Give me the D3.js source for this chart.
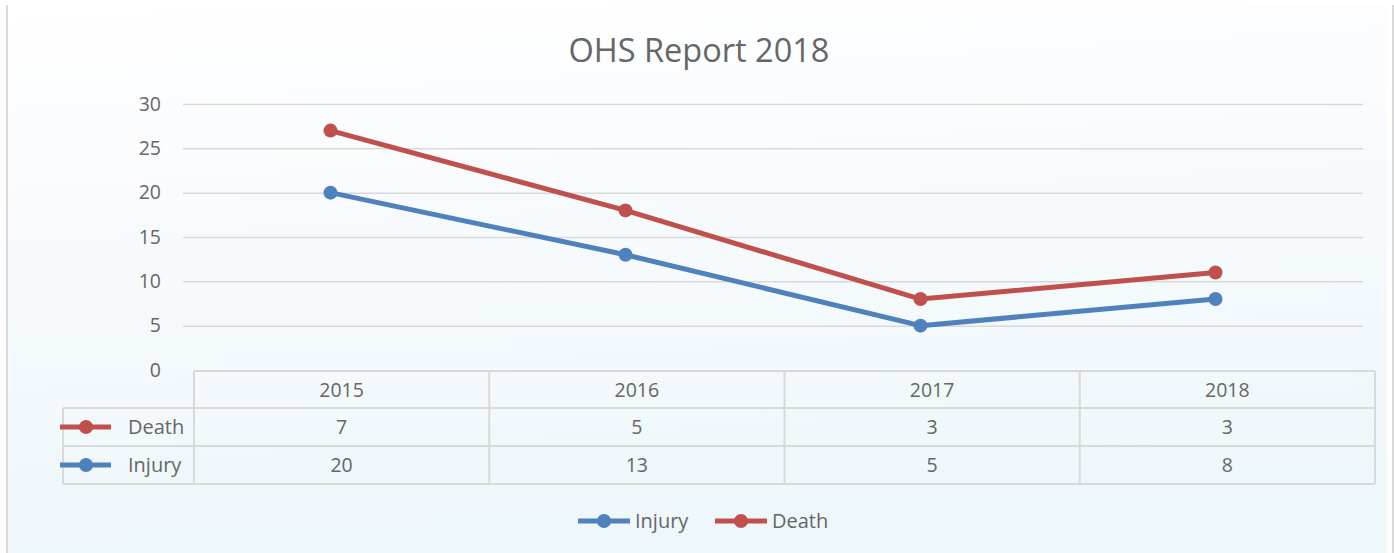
<!DOCTYPE html>
<html>
<head>
<meta charset="utf-8">
<script src="https://cdn.jsdelivr.net/npm/d3@7"></script>
<style>
  body { margin: 0; background: #fff; }
  svg { display: block; }
  text { font-family: "Open Sans", "Noto Sans", sans-serif; fill: #666666; }
</style>
</head>
<body>
<script>
// chart data (stacked line: Death is drawn on top of Injury)
const years = ['2015', '2016', '2017', '2018']
const injury = [20, 13, 5, 8]
const death = [7, 5, 3, 3]
const yTicks = [0, 5, 10, 15, 20, 25, 30]

const W = 1394, H = 553
const plot = { left: 183, right: 1363, top: 104, bottom: 370 }
const table = { left: 194, right: 1375, labelLeft: 63, rows: [371, 408, 446, 484] }

const blue = '#4f81bd', red = '#c0504d', grid = '#d9d9d9'

const svg = d3.select('body').append('svg')
    .attr('width', W)
    .attr('height', H)

// soft background gradient
const defs = svg.append('defs')
const grad = defs.append('linearGradient')
    .attr('id', 'bg')
    .attr('x1', 0).attr('y1', 0).attr('x2', 0.15).attr('y2', 1)
grad.append('stop').attr('offset', '0%').attr('stop-color', '#ffffff')
grad.append('stop').attr('offset', '45%').attr('stop-color', '#f7fafd')
grad.append('stop').attr('offset', '100%').attr('stop-color', '#eef7fb')

svg.append('rect')
    .attr('x', 7).attr('y', 5)
    .attr('width', W - 14).attr('height', H - 5)
    .attr('fill', 'url(#bg)')

// chart frame (left and right edges)
svg.append('line').attr('x1', 7).attr('x2', 7).attr('y1', 5).attr('y2', H)
    .attr('stroke', '#d9d9d9').attr('stroke-width', 2)
svg.append('line').attr('x1', 1393).attr('x2', 1393).attr('y1', 5).attr('y2', H)
    .attr('stroke', '#d9d9d9').attr('stroke-width', 2)

// title
svg.append('text')
    .attr('x', 699)
    .attr('y', 62)
    .attr('text-anchor', 'middle')
    .attr('font-size', '32.5px')
    .text('OHS Report 2018')

// scales
const x = d3.scaleBand()
    .domain(years)
    .range([plot.left, plot.right])
const xt = d3.scaleBand()
    .domain(years)
    .range([table.left, table.right])
const y = d3.scaleLinear()
    .domain([0, 30])
    .range([plot.bottom, plot.top])

// gridlines + y labels
const yAxis = svg.append('g')
    .attr('transform', `translate(${plot.left},0)`)
    .call(d3.axisLeft(y).tickValues(yTicks).tickSize(-(plot.right - plot.left)).tickPadding(22))
yAxis.select('.domain').remove()
yAxis.selectAll('.tick line').attr('stroke', grid).attr('stroke-width', 1.5)
yAxis.selectAll('.tick').filter(d => d === 0).select('line').remove()
yAxis.selectAll('.tick text')
    .attr('font-size', '19.5px')
    .attr('fill', '#666666')
    .attr('font-family', '"Open Sans", sans-serif')

// data table
const tg = svg.append('g')
const tl = (x1, y1, x2, y2) => tg.append('line')
    .attr('x1', x1).attr('y1', y1).attr('x2', x2).attr('y2', y2)
    .attr('stroke', grid).attr('stroke-width', 2)

tl(table.left, table.rows[0], table.right, table.rows[0])
tl(table.labelLeft, table.rows[1], table.right, table.rows[1])
tl(table.labelLeft, table.rows[2], table.right, table.rows[2])
tl(table.labelLeft, table.rows[3], table.right, table.rows[3])
tl(table.labelLeft, table.rows[1], table.labelLeft, table.rows[3])
years.forEach(yr => tl(xt(yr), table.rows[0], xt(yr), table.rows[3]))
tl(table.right, table.rows[0], table.right, table.rows[3])

const cellY = i => (table.rows[i] + table.rows[i + 1]) / 2 + 7

tg.selectAll('.hdr')
    .data(years)
    .enter()
    .append('text')
    .attr('x', d => xt(d) + xt.bandwidth() / 2)
    .attr('y', cellY(0))
    .attr('text-anchor', 'middle')
    .attr('font-size', '19.5px')
    .text(d => d)

const rowsData = [
    { name: 'Death', color: red, values: death },
    { name: 'Injury', color: blue, values: injury }
]

rowsData.forEach((r, i) => {
    const cy = (table.rows[i + 1] + table.rows[i + 2]) / 2
    tg.append('line')
        .attr('x1', 60).attr('x2', 111).attr('y1', cy).attr('y2', cy)
        .attr('stroke', r.color).attr('stroke-width', 5)
    tg.append('circle').attr('cx', 86).attr('cy', cy).attr('r', 7).attr('fill', r.color)
    tg.append('text')
        .attr('x', 128).attr('y', cy + 7)
        .attr('font-size', '20px')
        .text(r.name)
    tg.selectAll('.v' + i)
        .data(r.values)
        .enter()
        .append('text')
        .attr('x', (d, j) => xt(years[j]) + xt.bandwidth() / 2)
        .attr('y', cy + 7)
        .attr('text-anchor', 'middle')
        .attr('font-size', '19.5px')
        .text(d => d)
})

// stacked series
const injuryY = injury
const deathY = death.map((d, i) => d + injury[i])

const line = d3.line()
    .x((d, i) => x(years[i]) + x.bandwidth() / 2)
    .y(d => y(d))

const series = [
    { color: blue, values: injuryY },
    { color: red, values: deathY }
]

series.forEach(s => {
    svg.append('path')
        .datum(s.values)
        .attr('fill', 'none')
        .attr('stroke', s.color)
        .attr('stroke-width', 5)
        .attr('stroke-linejoin', 'round')
        .attr('d', line)
    svg.selectAll(null)
        .data(s.values)
        .enter()
        .append('circle')
        .attr('cx', (d, i) => x(years[i]) + x.bandwidth() / 2)
        .attr('cy', d => y(d))
        .attr('r', 7)
        .attr('fill', s.color)
})

// legend
const legend = [
    { name: 'Injury', color: blue, x: 578 },
    { name: 'Death', color: red, x: 715 }
]
const lg = svg.append('g')
legend.forEach(l => {
    lg.append('line')
        .attr('x1', l.x).attr('x2', l.x + 52).attr('y1', 521).attr('y2', 521)
        .attr('stroke', l.color).attr('stroke-width', 5)
    lg.append('circle').attr('cx', l.x + 26).attr('cy', 521).attr('r', 7).attr('fill', l.color)
    lg.append('text')
        .attr('x', l.x + 57).attr('y', 528)
        .attr('font-size', '20px')
        .text(l.name)
})
</script>
</body>
</html>
